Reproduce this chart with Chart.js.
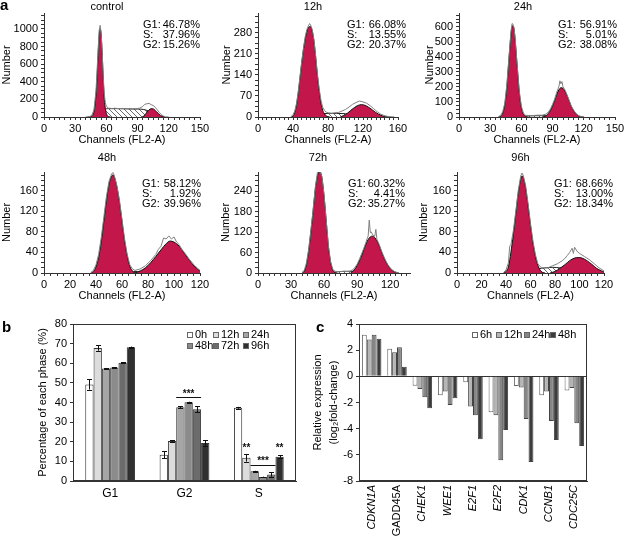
<!DOCTYPE html>
<html><head><meta charset="utf-8">
<script src="https://cdn.jsdelivr.net/npm/chart.js@4.4.0/dist/chart.umd.min.js"></script>
<style>
html,body{margin:0;padding:0;background:#fff;}
#root{position:relative;width:627px;height:539px;overflow:hidden;font-family:"Liberation Sans",Arial,sans-serif;color:#000;}
.cv{position:absolute;}
.plbl{position:absolute;font-weight:bold;font-size:15px;line-height:15px;}
.stats{position:absolute;font-size:11px;line-height:10px;}
.stats div{display:flex;justify-content:space-between;}
.leg{position:absolute;font-size:11px;line-height:11px;display:flex;align-items:center;white-space:nowrap;}
.leg i{display:inline-block;width:4px;height:4px;border:1px solid #666;margin-right:2px;}
</style></head><body><div id="root"></div>
<script>
// ---------------- DATA ----------------
// Panel a: flow cytometry histograms
const histTitles = ['control', '12h', '24h', '48h', '72h', '96h'];
const statG1 = ['46.78%', '66.08%', '56.91%', '58.12%', '60.32%', '68.66%'];
const statS  = ['37.96%', '13.55%', '5.01%', '1.92%', '4.41%', '13.00%'];
const statG2 = ['15.26%', '20.37%', '38.08%', '39.96%', '35.27%', '18.34%'];
const histXMax  = [150, 160, 150, 120, 138, 120];
const histXStep = [30, 40, 30, 20, 30, 20];
const histYMax  = [1180, 345, 690, 196, 296, 196];
const histYStep = [200, 70, 100, 40, 60, 40];

// [channel, count] pairs
const ctrlRaw = [[40,0],[44,5],[46,20],[48,80],[50,300],[51,520],[52,760],[53,980],[54,1040],[55,940],[56,720],[57,450],[58,260],[59,160],[60,120],[62,100],[64,98],[66,96],[68,100],[70,97],[72,95],[75,98],[78,94],[80,96],[84,92],[88,95],[92,100],[95,120],[97,145],[99,150],[101,155],[103,140],[105,130],[107,110],[109,80],[111,50],[113,25],[115,10],[117,3],[120,0]];
const ctrlG1 = [[42,0],[44,2],[46,10],[48,60],[50,250],[51,450],[52,700],[53,920],[54,1000],[55,930],[56,700],[57,420],[58,200],[60,40],[62,5],[64,0]];
const ctrlS  = [[50,0],[54,40],[58,85],[62,95],[70,95],[80,92],[90,90],[96,85],[100,70],[104,45],[108,20],[112,5],[116,0]];
const ctrlG2 = [[94,0],[96,10],[98,40],[100,70],[102,90],[104,95],[106,85],[108,62],[110,38],[112,18],[114,6],[116,0]];

const h12Raw = [[38,2],[40,8],[42,20],[44,45],[46,85],[48,135],[50,185],[52,230],[54,268],[56,292],[58,305],[59,310],[60,306],[62,290],[64,255],[66,200],[68,140],[70,92],[72,55],[74,32],[76,22],[78,16],[80,14],[84,12],[88,14],[92,15],[96,20],[100,25],[104,33],[108,42],[112,48],[116,53],[120,50],[124,46],[128,38],[132,28],[136,18],[140,10],[144,5],[148,2],[152,1],[156,0]];
const h12G1 = [[38,0],[40,3],[42,15],[44,40],[46,80],[48,130],[50,180],[52,225],[54,260],[56,285],[58,298],[60,300],[62,285],[64,250],[66,195],[68,135],[70,85],[72,45],[74,22],[76,10],[78,4],[80,1],[82,0]];
const h12S  = [[54,0],[60,5],[70,10],[80,12],[90,12],[100,11],[110,9],[120,7],[130,3],[140,0]];
const h12G2 = [[94,0],[98,5],[102,12],[106,22],[110,31],[114,38],[118,41],[122,39],[126,33],[130,25],[134,16],[138,9],[142,4],[146,1],[150,0]];

const h24Raw = [[38,3],[40,10],[42,35],[44,90],[46,215],[48,395],[50,570],[51,620],[52,615],[53,585],[54,520],[56,340],[58,170],[60,70],[62,25],[64,12],[66,10],[70,9],[75,12],[80,12],[84,20],[86,35],[88,55],[90,85],[92,120],[94,165],[96,200],[97,240],[98,220],[99,235],[100,200],[102,178],[104,145],[106,108],[108,72],[110,48],[112,28],[114,14],[116,6],[118,2],[120,0]];
const h24G1 = [[38,0],[40,5],[42,25],[44,80],[46,200],[48,380],[50,550],[51,600],[52,605],[53,580],[54,510],[56,330],[58,160],[60,60],[62,18],[64,4],[66,0]];
const h24S  = [[56,0],[62,5],[70,8],[80,9],[88,7],[96,4],[104,0]];
const h24G2 = [[80,0],[84,10],[86,25],[88,45],[90,75],[92,110],[94,150],[96,180],[98,194],[100,190],[102,170],[104,140],[106,105],[108,70],[110,45],[112,25],[114,12],[116,5],[118,1],[120,0]];

const h48Raw = [[36,1],[38,5],[40,16],[42,36],[44,68],[46,108],[48,148],[50,178],[52,192],[53,195],[54,190],[56,170],[58,142],[60,104],[62,66],[64,36],[66,16],[68,8],[70,5],[74,8],[78,14],[82,24],[86,36],[88,46],[90,52],[92,68],[94,66],[96,72],[98,66],[100,70],[102,60],[104,55],[106,46],[108,40],[112,26],[116,14],[120,5]];
const h48G1 = [[36,0],[38,3],[40,12],[42,30],[44,60],[46,100],[48,140],[50,172],[52,188],[53,190],[54,187],[56,168],[58,138],[60,100],[62,62],[64,33],[66,13],[68,4],[70,0]];
const h48S  = [[60,0],[66,2],[72,3],[80,3],[90,2],[100,1],[110,0]];
const h48G2 = [[70,0],[74,4],[78,10],[82,20],[86,32],[90,45],[94,57],[97,62],[100,60],[104,52],[108,38],[112,24],[116,12],[120,4]];

const h72Raw = [[40,2],[42,8],[44,30],[46,70],[48,125],[50,185],[52,250],[54,295],[55,305],[56,300],[58,282],[60,228],[62,152],[64,78],[66,32],[68,10],[70,5],[74,4],[78,5],[82,4],[84,6],[86,10],[88,16],[90,26],[92,40],[94,56],[96,72],[98,90],[99,100],[100,108],[101,155],[102,118],[103,120],[104,112],[106,108],[107,128],[108,98],[110,84],[112,66],[114,50],[116,36],[118,24],[120,15],[122,9],[124,4],[126,2],[128,0]];
const h72G1 = [[40,0],[42,5],[44,25],[46,65],[48,120],[50,180],[52,245],[54,285],[56,298],[58,280],[60,225],[62,150],[64,75],[66,30],[68,8],[70,1],[72,0]];
const h72S  = [[64,0],[70,3],[80,5],[90,5],[100,3],[110,0]];
const h72G2 = [[84,0],[86,5],[88,12],[90,22],[92,35],[94,50],[96,68],[98,85],[100,98],[102,106],[104,108],[106,104],[108,94],[110,80],[112,63],[114,47],[116,33],[118,22],[120,13],[122,7],[124,3],[126,1],[128,0]];

const h96Raw = [[38,1],[40,6],[42,20],[43,52],[44,55],[46,82],[48,120],[50,160],[52,188],[53,194],[54,190],[56,170],[58,135],[60,96],[62,62],[64,36],[66,18],[68,12],[70,10],[74,10],[78,14],[82,18],[86,24],[88,28],[90,34],[92,40],[94,48],[95,38],[96,50],[98,42],[100,38],[104,32],[108,26],[112,18],[116,10],[120,4]];
const h96G1 = [[38,0],[40,3],[42,12],[44,40],[46,75],[48,115],[50,155],[52,182],[53,188],[54,186],[56,165],[58,130],[60,92],[62,58],[64,32],[66,15],[68,5],[70,1],[72,0]];
const h96S  = [[56,0],[60,4],[66,8],[72,10],[78,11],[84,10],[90,8],[96,6],[102,4],[108,2],[114,0]];
const h96G2 = [[76,0],[80,3],[84,9],[88,16],[92,24],[96,29],[99,30],[102,29],[106,24],[110,17],[114,9],[118,4],[120,2]];

const histRaw = [ctrlRaw, h12Raw, h24Raw, h48Raw, h72Raw, h96Raw];
const histG1  = [ctrlG1, h12G1, h24G1, h48G1, h72G1, h96G1];
const histS   = [ctrlS, h12S, h24S, h48S, h72S, h96S];
const histG2  = [ctrlG2, h12G2, h24G2, h48G2, h72G2, h96G2];

// Panel b: percentage of each phase
const bCategories = ['G1', 'G2', 'S'];
const bSeries = ['0h', '12h', '24h', '48h', '72h', '96h'];
const b0h  = [49.2, 13.4, 37.3];
const b12h = [67.8, 20.4, 11.8];
const b24h = [57.3, 37.6, 5.0];
const b48h = [57.8, 40.1, 2.0];
const b72h = [60.2, 36.5, 3.3];
const b96h = [68.1, 19.4, 12.4];
const b0hErr  = [2.6, 1.9, 0.5];
const b12hErr = [1.4, 0.3, 1.9];
const b24hErr = [0.3, 0.4, 0.2];
const b48hErr = [0.3, 0.3, 0.2];
const b72hErr = [0.3, 1.5, 1.1];
const b96hErr = [0.4, 1.5, 0.6];
// significance marks: category index, first/last series index, value level, label
const bSigCat  = [1, 2, 2, 2];
const bSigFrom = [2, 1, 2, 5];
const bSigTo   = [4, 1, 4, 5];
const bSigY    = [42.8, 17.6, 8.4, 17.6];
const bSigText = ['***', '**', '***', '**'];

// Panel c: relative expression
const cCategories = ['CDKN1A', 'GADD45A', 'CHEK1', 'WEE1', 'E2F1', 'E2F2', 'CDK1', 'CCNB1', 'CDC25C'];
const cSeries = ['6h', '12h', '24h', '48h'];
const c6h  = [3.18, 2.10, -0.72, -1.44, -0.46, -2.74, -0.74, -1.44, -1.08];
const c12h = [2.82, 1.85, -0.97, -1.15, -2.30, -2.97, -0.85, -1.15, -0.90];
const c24h = [3.18, 2.23, -1.60, -2.20, -2.97, -6.41, -3.26, -3.41, -3.59];
const c48h = [2.87, 0.74, -2.44, -1.67, -4.80, -4.10, -6.54, -4.87, -5.33];

// ---------------- STYLE / LAYOUT ----------------
const FONT = '"Liberation Sans", Arial, sans-serif';
Chart.defaults.font.family = FONT;
Chart.defaults.color = '#000';
Chart.defaults.animation = false;
const CRIMSON = '#c3164b';
const AX = '#333';
const root = document.getElementById('root');

function addCanvas(left, top, w, h) {
  const c = document.createElement('canvas');
  c.className = 'cv';
  c.width = w; c.height = h;
  c.style.left = left + 'px'; c.style.top = top + 'px';
  c.style.width = w + 'px'; c.style.height = h + 'px';
  root.appendChild(c);
  return c;
}
function addDiv(cls, left, top, html) {
  const d = document.createElement('div');
  d.className = cls; d.style.left = left + 'px'; d.style.top = top + 'px';
  d.innerHTML = html; root.appendChild(d); return d;
}
function hatchPattern() {
  const c = document.createElement('canvas');
  c.width = 5; c.height = 5;
  const g = c.getContext('2d');
  g.strokeStyle = '#444'; g.lineWidth = 0.8;
  g.beginPath();
  g.moveTo(0, 0); g.lineTo(5, 5);
  g.moveTo(-1, 4); g.lineTo(1, 6);
  g.moveTo(4, -1); g.lineTo(6, 1);
  g.stroke();
  return g.createPattern(c, 'repeat');
}
const isMajor = (v, step) => Math.abs(v / step - Math.round(v / step)) < 1e-6;
const toXY = arr => arr.map(p => ({x: p[0], y: p[1]}));

// plot titles drawn a bit left of the plot centre, as in the figure
const histTitlePlugin = {
  id: 'histTitle',
  afterDraw(chart, args, opts) {
    const {ctx, chartArea: a} = chart;
    ctx.save();
    ctx.font = '11px ' + FONT; ctx.fillStyle = '#000';
    ctx.textAlign = 'center'; ctx.textBaseline = 'middle';
    ctx.fillText(opts.text, (a.left + a.right) / 2 + opts.dx, opts.y);
    ctx.restore();
  }
};

const histLayout = [
  {left: 0,   top: 0,   w: 212, h: 150, yW: 44, padR: 12, padT: 13, ty: 7,  dx: -15},
  {left: 220, top: 0,   w: 190, h: 150, yW: 38, padR: 12, padT: 13, ty: 7,  dx: -15},
  {left: 423, top: 0,   w: 204, h: 150, yW: 36, padR: 12, padT: 13, ty: 7,  dx: -14},
  {left: 0,   top: 152, w: 212, h: 154, yW: 44, padR: 12, padT: 20, ty: 6,  dx: -15},
  {left: 219, top: 152, w: 203, h: 154, yW: 39, padR: 12, padT: 20, ty: 6,  dx: -16},
  {left: 417, top: 152, w: 210, h: 154, yW: 40, padR: 23, padT: 20, ty: 6,  dx: -10}
];
const statsLayout = [
  {l: 143, t: 19, w: 57}, {l: 347, t: 19, w: 59}, {l: 558, t: 19, w: 59},
  {l: 142, t: 178, w: 59}, {l: 348, t: 178, w: 57}, {l: 554, t: 178, w: 59}
];

// ---------------- PANEL a ----------------
histTitles.forEach((title, i) => {
  const L = histLayout[i];
  const cv = addCanvas(L.left, L.top, L.w, L.h);
  const yMinor = histYStep[i] / 4;
  const xStep = histXStep[i], yStep = histYStep[i];
  new Chart(cv, {
    type: 'line',
    data: {
      datasets: [
        {data: toXY(histRaw[i]), borderColor: '#808080', borderWidth: 1, pointRadius: 0, fill: false, tension: 0},
        {data: toXY(histG1[i]), borderColor: '#111', borderWidth: 1, backgroundColor: CRIMSON, fill: 'origin', pointRadius: 0, cubicInterpolationMode: 'monotone'},
        {data: toXY(histG2[i]), borderColor: '#111', borderWidth: 1, backgroundColor: CRIMSON, fill: 'origin', pointRadius: 0, cubicInterpolationMode: 'monotone'},
        {data: toXY(histS[i]), borderColor: '#222', borderWidth: 1, backgroundColor: hatchPattern(), fill: 'origin', pointRadius: 0, cubicInterpolationMode: 'monotone'}
      ]
    },
    options: {
      responsive: false, animation: false, devicePixelRatio: 1,
      layout: {padding: {left: 0, right: L.padR, top: L.padT, bottom: 0}},
      plugins: {
        legend: {display: false}, tooltip: {enabled: false}, title: {display: false},
        histTitle: {text: title, dx: L.dx, y: L.ty}
      },
      scales: {
        x: {
          type: 'linear', min: 0, max: histXMax[i],
          afterFit: s => { s.height = 33; },
          ticks: {stepSize: 5, autoSkip: false, maxRotation: 0, includeBounds: false, padding: 2,
                  callback: v => isMajor(v, xStep) ? v : '', font: {size: 11}, color: '#000'},
          grid: {drawOnChartArea: false, tickLength: 3, color: AX},
          border: {color: AX},
          title: {display: true, text: 'Channels (FL2-A)', color: '#000', font: {size: 11}, padding: {top: 0, bottom: 3}}
        },
        y: {
          type: 'linear', min: 0, max: histYMax[i],
          afterFit: s => { s.width = L.yW; },
          ticks: {stepSize: yMinor, autoSkip: false, includeBounds: false, padding: 3,
                  callback: v => isMajor(v, yStep) ? v : '', font: {size: 11}, color: '#000'},
          grid: {drawOnChartArea: false, tickLength: 3, color: AX},
          border: {color: AX},
          title: {display: true, text: 'Number', color: '#000', font: {size: 11}, padding: {top: 0, bottom: 0}}
        }
      }
    },
    plugins: [histTitlePlugin]
  });
  const S = statsLayout[i];
  const st = addDiv('stats', S.l, S.t,
    '<div><span>G1:</span><span>' + statG1[i] + '</span></div>' +
    '<div><span>S:</span><span>' + statS[i] + '</span></div>' +
    '<div><span>G2:</span><span>' + statG2[i] + '</span></div>');
  st.style.width = S.w + 'px';
});

// ---------------- shared plugins ----------------
const framePlugin = {
  id: 'frame',
  afterDraw(chart) {
    const {ctx, chartArea: a} = chart;
    ctx.save(); ctx.strokeStyle = AX; ctx.lineWidth = 1;
    ctx.strokeRect(Math.round(a.left) + 0.5, Math.round(a.top) + 0.5, Math.round(a.right - a.left) - 1, Math.round(a.bottom - a.top) - 1);
    ctx.restore();
  }
};
const errorBarPlugin = {
  id: 'errbars',
  afterDatasetsDraw(chart) {
    const {ctx} = chart; const ys = chart.scales.y;
    ctx.save(); ctx.strokeStyle = '#111'; ctx.lineWidth = 1;
    chart.data.datasets.forEach((ds, di) => {
      if (!ds.errors) return;
      chart.getDatasetMeta(di).data.forEach((bar, j) => {
        const v = ds.data[j], e = ds.errors[j];
        const x = Math.round(bar.x) + 0.5;
        const y1 = ys.getPixelForValue(v + e), y2 = ys.getPixelForValue(v - e);
        ctx.beginPath();
        ctx.moveTo(x, y1); ctx.lineTo(x, y2);
        ctx.moveTo(x - 2.5, Math.round(y1) + 0.5); ctx.lineTo(x + 2.5, Math.round(y1) + 0.5);
        ctx.moveTo(x - 2.5, Math.round(y2) + 0.5); ctx.lineTo(x + 2.5, Math.round(y2) + 0.5);
        ctx.stroke();
      });
    });
    ctx.restore();
  }
};
const sigPlugin = {
  id: 'sig',
  afterDatasetsDraw(chart) {
    const {ctx} = chart; const ys = chart.scales.y;
    ctx.save(); ctx.strokeStyle = '#111'; ctx.fillStyle = '#111'; ctx.lineWidth = 1;
    ctx.font = 'bold 10px ' + FONT; ctx.textAlign = 'center'; ctx.textBaseline = 'middle';
    bSigText.forEach((t, k) => {
      const b1 = chart.getDatasetMeta(bSigFrom[k]).data[bSigCat[k]];
      const b2 = chart.getDatasetMeta(bSigTo[k]).data[bSigCat[k]];
      const y = ys.getPixelForValue(bSigY[k]);
      if (bSigFrom[k] === bSigTo[k]) {
        ctx.fillText(t, b1.x, y + 2);
      } else {
        const xl = b1.x - b1.width / 2, xr = b2.x + b2.width / 2;
        ctx.beginPath(); ctx.moveTo(xl, Math.round(y) + 0.5); ctx.lineTo(xr, Math.round(y) + 0.5); ctx.stroke();
        ctx.fillText(t, (xl + xr) / 2, y - 3);
      }
    });
    ctx.restore();
  }
};

// ---------------- PANEL b ----------------
const bValues = [b0h, b12h, b24h, b48h, b72h, b96h];
const bErrors = [b0hErr, b12hErr, b24hErr, b48hErr, b72hErr, b96hErr];
const bColors = ['#ffffff', '#dcdcdc', '#a6a6a6', '#8b8b8b', '#6c6c6c', '#303030'];
const cvB = addCanvas(36, 313, 270, 190);
new Chart(cvB, {
  type: 'bar',
  data: {
    labels: bCategories,
    datasets: bSeries.map((s, i) => ({
      label: s, data: bValues[i], errors: bErrors[i], backgroundColor: bColors[i],
      borderColor: '#333', borderWidth: 1, categoryPercentage: 0.67, barPercentage: 1.0
    }))
  },
  options: {
    responsive: false, animation: false, devicePixelRatio: 1,
    layout: {padding: {left: 0, right: 10, top: 11, bottom: 0}},
    plugins: {legend: {display: false}, tooltip: {enabled: false}},
    scales: {
      x: {
        afterFit: s => { s.height = 22; },
        ticks: {font: {size: 12}, color: '#000', padding: 5},
        grid: {display: false, drawTicks: false, tickLength: 0}, border: {color: AX}
      },
      y: {
        min: 0, max: 80,
        afterFit: s => { s.width = 37; },
        ticks: {stepSize: 10, font: {size: 11}, color: '#000', padding: 3},
        grid: {drawOnChartArea: false, tickLength: 3, color: AX}, border: {color: AX},
        title: {display: true, text: 'Percentage of each phase (%)', color: '#000', font: {size: 11}, padding: {top: 0, bottom: 0}}
      }
    }
  },
  plugins: [framePlugin, errorBarPlugin, sigPlugin]
});

// ---------------- PANEL c ----------------
const cValues = [c6h, c12h, c24h, c48h];
const cColors = ['#ffffff', '#b5b5b5', '#868686', '#3c3c3c'];
const cvC = addCanvas(310, 313, 287, 226);
new Chart(cvC, {
  type: 'bar',
  data: {
    labels: cCategories,
    datasets: cSeries.map((s, i) => ({
      label: s, data: cValues[i], backgroundColor: cColors[i],
      borderColor: i === 0 ? '#666' : '#444', borderWidth: 1, categoryPercentage: 0.77, barPercentage: 1.0
    }))
  },
  options: {
    responsive: false, animation: false, devicePixelRatio: 1,
    layout: {padding: {left: 0, right: 10, top: 11, bottom: 0}},
    plugins: {legend: {display: false}, tooltip: {enabled: false}},
    scales: {
      x: {
        afterFit: s => { s.height = 58; },
        ticks: {minRotation: 90, maxRotation: 90, autoSkip: false, padding: 4, color: '#000',
                font: ctx => ({size: 11, style: ctx.index === 1 ? 'normal' : 'italic'})},
        grid: {display: false, drawTicks: false, tickLength: 0}, border: {color: AX}
      },
      y: {
        min: -8, max: 4,
        afterFit: s => { s.width = 49; },
        ticks: {stepSize: 2, font: {size: 11}, color: '#000', padding: 3},
        grid: {drawOnChartArea: true, tickLength: 3, tickColor: AX,
               color: ctx => (ctx.tick && ctx.tick.value === 0) ? AX : 'rgba(0,0,0,0)'},
        border: {color: AX},
        title: {display: true, text: ['Relative expression', '(log\u2082fold-change)'], color: '#000',
                font: {size: 11, lineHeight: '16px'}, padding: {top: 0, bottom: 0}}
      }
    }
  },
  plugins: [framePlugin]
});

// ---------------- legends & panel letters (HTML text) ----------------
const bLegPos = [[187, 329], [213, 329], [243, 329], [187, 340], [213, 340], [243, 340]];
bSeries.forEach((s, i) => {
  addDiv('leg', bLegPos[i][0], bLegPos[i][1], '<i style="background:' + bColors[i] + '"></i>' + s);
});
const cLegPos = [[472, 329], [496, 329], [524, 329], [550, 329]];
cSeries.forEach((s, i) => {
  addDiv('leg', cLegPos[i][0], cLegPos[i][1], '<i style="background:' + cColors[i] + '"></i>' + s);
});
addDiv('plbl', 0, -3, 'a');
addDiv('plbl', 2, 319, 'b');
addDiv('plbl', 316, 319, 'c');
</script>
</body></html>
